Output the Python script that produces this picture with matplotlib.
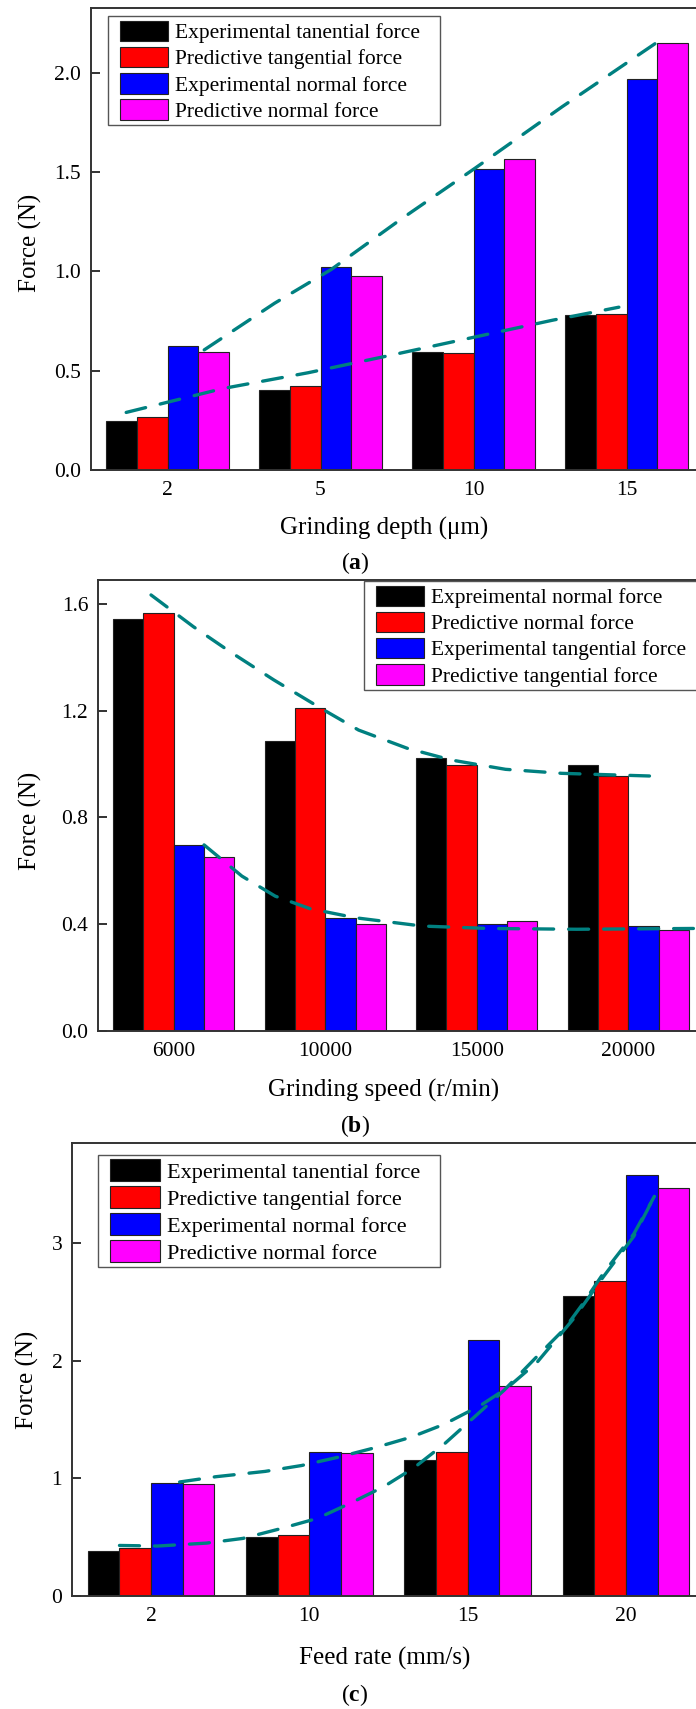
import matplotlib.pyplot as plt
import numpy as np
from matplotlib.patches import Rectangle
from matplotlib.transforms import IdentityTransform

plt.rcParams['font.family'] = ['Liberation Serif', 'DejaVu Serif']
plt.rcParams['mathtext.fontset'] = 'custom'
plt.rcParams['mathtext.rm'] = 'Liberation Serif'
plt.rcParams['mathtext.bf'] = 'Liberation Serif:bold'

# (a) grinding depth
a_cats = ['2', '5', '10', '15']
a_names = ['Experimental tanential force', 'Predictive tangential force',
           'Experimental normal force', 'Predictive normal force']
a_exp_t = [0.248, 0.401, 0.593, 0.782]
a_pre_t = [0.267, 0.421, 0.587, 0.788]
a_exp_n = [0.623, 1.023, 1.516, 1.967]
a_pre_n = [0.596, 0.979, 1.568, 2.153]
a_up_x = [0.24, 0.70, 1.07, 1.52, 2.01, 2.58, 3.23]
a_up_y = [0.605, 0.84, 1.01, 1.26, 1.52, 1.83, 2.17]
a_lo_x = [-0.27, 0.36, 0.92, 1.41, 1.98, 2.52, 2.95]
a_lo_y = [0.29, 0.41, 0.49, 0.57, 0.665, 0.755, 0.82]

# (b) grinding speed
b_cats = ['6000', '10000', '15000', '20000']
b_names = ['Expreimental normal force', 'Predictive normal force',
           'Experimental tangential force', 'Predictive tangential force']
b_exp_n = [1.542, 1.085, 1.021, 0.997]
b_pre_n = [1.566, 1.209, 0.996, 0.954]
b_exp_t = [0.697, 0.424, 0.400, 0.392]
b_pre_t = [0.651, 0.400, 0.413, 0.377]
b_up_x = [-0.15, 0.13, 0.37, 0.66, 0.97, 1.22, 1.54, 1.83, 2.19, 2.56, 3.14]
b_up_y = [1.633, 1.514, 1.421, 1.315, 1.209, 1.127, 1.059, 1.015, 0.98, 0.965, 0.955]
b_lo_x = [0.20, 0.45, 0.67, 0.90, 1.20, 1.64, 2.08, 2.66, 3.43]
b_lo_y = [0.697, 0.58, 0.505, 0.458, 0.424, 0.393, 0.384, 0.381, 0.384]

# (c) feed rate
c_cats = ['2', '10', '15', '20']
c_names = a_names
c_exp_t = [0.387, 0.499, 1.160, 2.553]
c_pre_t = [0.410, 0.519, 1.229, 2.680]
c_exp_n = [0.961, 1.222, 2.177, 3.581]
c_pre_n = [0.951, 1.216, 1.785, 3.473]
c_up_x = [0.18, 0.41, 0.72, 0.95, 1.18, 1.41, 1.64, 1.85, 2.08, 2.25, 2.44, 2.67, 2.86, 3.05, 3.18]
c_up_y = [0.97, 1.015, 1.06, 1.11, 1.18, 1.26, 1.35, 1.46, 1.62, 1.77, 1.99, 2.36, 2.72, 3.06, 3.40]
c_lo_x = [-0.2, 0.04, 0.35, 0.58, 0.81, 1.05, 1.26, 1.47, 1.66, 1.85, 2.04, 2.23, 2.44, 2.61, 2.73, 2.86, 3.05, 3.18]
c_lo_y = [0.43, 0.425, 0.45, 0.49, 0.57, 0.66, 0.79, 0.93, 1.09, 1.29, 1.52, 1.75, 2.04, 2.27, 2.49, 2.75, 3.08, 3.40]

colors = ['#000000', '#ff0000', '#0000ff', '#ff00ff']
offsets = [-0.3, -0.1, 0.1, 0.3]
teal = '#008080'

W, H = 696, 1709
fig = plt.figure(figsize=(W / 100, H / 100), dpi=100)
legends = []


def panel(px, cats, series, names, ytop, yticks, yfmt, xlabel,
          xlab, ylab, curves, leg_px, leg_fs):
    l, t, r, b = px
    ax = fig.add_axes([l / W, 1 - b / H, (r - l) / W, (b - t) / H])
    x = np.arange(len(cats))
    for off, vals, c, n in zip(offsets, series, colors, names):
        ax.bar(x + off, vals, 0.2, color=c, edgecolor='#222222',
               linewidth=0.8, label=n, zorder=2)
    for cx, cy in curves:
        ax.plot(cx, cy, color=teal, lw=2.4, dashes=(6, 4.5),
                dash_capstyle='round', zorder=3)
    ax.set_xlim(-0.5, 3.5)
    ax.set_ylim(0, ytop)
    ax.set_xticks(x)
    ax.set_xticklabels(cats)
    ax.set_yticks(yticks)
    ax.set_yticklabels([yfmt.format(v) for v in yticks])
    ax.tick_params(axis='y', direction='in', length=6.5, width=1.3,
                   labelsize=15.5, pad=7, color='#222222')
    ax.tick_params(axis='x', length=0, labelsize=15.5, pad=8)
    for s in ax.spines.values():
        s.set_linewidth(1.4)
        s.set_color('#333333')
    ax.set_xlabel(xlabel, fontsize=18, va='center')
    ax.xaxis.set_label_coords(*xlab)
    ax.set_ylabel('Force (N)', fontsize=18, va='center')
    ax.yaxis.set_label_coords(*ylab)
    # legend content anchored at pixel position, frame drawn afterwards
    lx, ly = leg_px
    leg = ax.legend(loc='upper left',
                    bbox_to_anchor=((lx - l) / (r - l), (b - ly) / (b - t)),
                    borderaxespad=0, borderpad=0, frameon=False,
                    fontsize=leg_fs, handlelength=2.25, handleheight=1.1,
                    labelspacing=0.17, handletextpad=0.3)
    leg.set_zorder(6)
    legends.append((ax, leg))
    return ax


panel((91, 8, 703, 470), a_cats, [a_exp_t, a_pre_t, a_exp_n, a_pre_n],
      a_names, 2.327, [0, 0.5, 1.0, 1.5, 2.0], '{:.1f}',
      'Grinding depth (\u03bcm)', (0.479, -0.1255), (-0.099, 0.491),
      [(a_up_x, a_up_y), (a_lo_x, a_lo_y)], (120, 20.5), 15.5)

panel((98, 580, 704, 1031), b_cats, [b_exp_n, b_pre_n, b_exp_t, b_pre_t],
      b_names, 1.689, [0, 0.4, 0.8, 1.2, 1.6], '{:.1f}',
      'Grinding speed (r/min)', (0.472, -0.131), (-0.111, 0.466),
      [(b_up_x, b_up_y), (b_lo_x, b_lo_y)], (376, 585.5), 15.4)

panel((72, 1143, 705, 1596), c_cats, [c_exp_t, c_pre_t, c_exp_n, c_pre_n],
      c_names, 3.854, [0, 1, 2, 3], '{:.0f}',
      'Feed rate (mm/s)', (0.494, -0.137), (-0.071, 0.477),
      [(c_up_x, c_up_y), (c_lo_x, c_lo_y)], (110, 1159.5), 16)

for letter, yc in [('a', 563), ('b', 1126), ('c', 1695)]:
    fig.text(355 / W, 1 - yc / H, r'($\mathbf{' + letter + '}$)',
             fontsize=17, ha='center', va='center')

# legend frames: small vertical padding, wider horizontal padding
fig.canvas.draw()
renderer = fig.canvas.get_renderer()
for ax, leg in legends:
    bb = leg.get_window_extent(renderer)
    x0, x1 = bb.x0 - 12, bb.x1 + 20
    y0, y1 = bb.y0 - 3, bb.y1 + 4.5
    ax.add_patch(Rectangle((x0, y0), x1 - x0, y1 - y0,
                           transform=IdentityTransform(), facecolor='white',
                           edgecolor='#555555', linewidth=1.0, zorder=5,
                           clip_on=False))

fig.savefig('out.png', dpi=100)
